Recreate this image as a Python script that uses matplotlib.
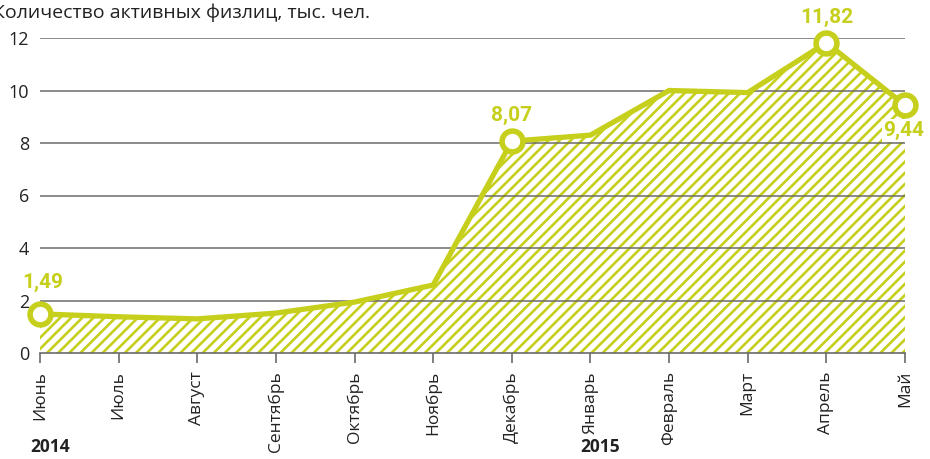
import numpy as np
import matplotlib.pyplot as plt

plt.rcParams['hatch.color'] = '#c6cf1b'
plt.rcParams['hatch.linewidth'] = 1.9

months = ['Июнь', 'Июль', 'Август', 'Сентябрь', 'Октябрь', 'Ноябрь',
          'Декабрь', 'Январь', 'Февраль', 'Март', 'Апрель', 'Май']
values = [1.49, 1.38, 1.30, 1.52, 1.94, 2.59, 8.07, 8.30, 10.0, 9.92, 11.82, 9.44]
marked = [0, 6, 10, 11]
labels = ['1,49', '8,07', '11,82', '9,44']
years = [(0, '2014'), (7, '2015')]

col = '#c6cf1b'
grid = '#6b6b6b'

fig = plt.figure(figsize=(9.3, 4.59), dpi=100)
ax = fig.add_axes([40 / 930, 106 / 459, 865 / 930, 315 / 459])

x = np.arange(len(months))
ax.fill_between(x, values, 0, facecolor='white', edgecolor=col, hatch='///',
                linewidth=0, zorder=1)
for yv in range(2, 13, 2):
    ax.axhline(yv, color=grid, lw=1.1, zorder=2)
ax.plot(x, values, color=col, lw=3.8, solid_joinstyle='miter', zorder=3)
ax.plot(x[marked], np.array(values)[marked], 'o', ms=15, mfc='white', mec=col,
        mew=4, zorder=4, clip_on=False)

lfam = ['Roboto', 'DejaVu Sans']
for i, t in zip(marked, labels):
    if i == 11:
        ax.text(x[i] - 0.02, values[i] - 0.6, t, ha='center', va='top', color=col,
                fontsize=15, fontweight='bold', family=lfam,
                bbox=dict(facecolor='white', edgecolor='none', pad=1), zorder=5)
    elif i == 0:
        ax.text(x[i] + 0.03, values[i] + 0.85, t, ha='center', va='bottom', color=col,
                fontsize=15, fontweight='bold', family=lfam, zorder=5)
    else:
        ax.text(x[i], values[i] + 0.6, t, ha='center', va='bottom', color=col,
                fontsize=15, fontweight='bold', family=lfam, zorder=5)

ax.set_xlim(0, 11)
ax.set_ylim(0, 12)
ax.set_yticks(range(0, 13, 2))
ax.set_xticks(x)
ax.set_xticklabels(months, rotation=90, fontsize=12.5, family='Open Sans', color='#222222')
ax.tick_params(axis='y', length=0, pad=8, labelsize=13, labelcolor='#222222')
ax.tick_params(axis='x', length=7, width=1.2, color=grid, pad=6)
for lab in ax.get_yticklabels():
    lab.set_family('Open Sans')
for s in ['top', 'right', 'left']:
    ax.spines[s].set_visible(False)
ax.spines['bottom'].set_color(grid)
ax.spines['bottom'].set_linewidth(1.2)
ax.spines['bottom'].set_zorder(6)

fig.text(-0.008, 0.972, 'Количество активных физлиц, тыс. чел.', fontsize=14,
         family='Open Sans', color='#222222', va='center')
for i, t in years:
    fig.text((40 + i * 865 / 11 - 10) / 930, 12 / 459, t, fontsize=12.5,
             fontweight='bold', family='Open Sans', color='#222222', va='center')

fig.savefig('out.png', dpi=100)
